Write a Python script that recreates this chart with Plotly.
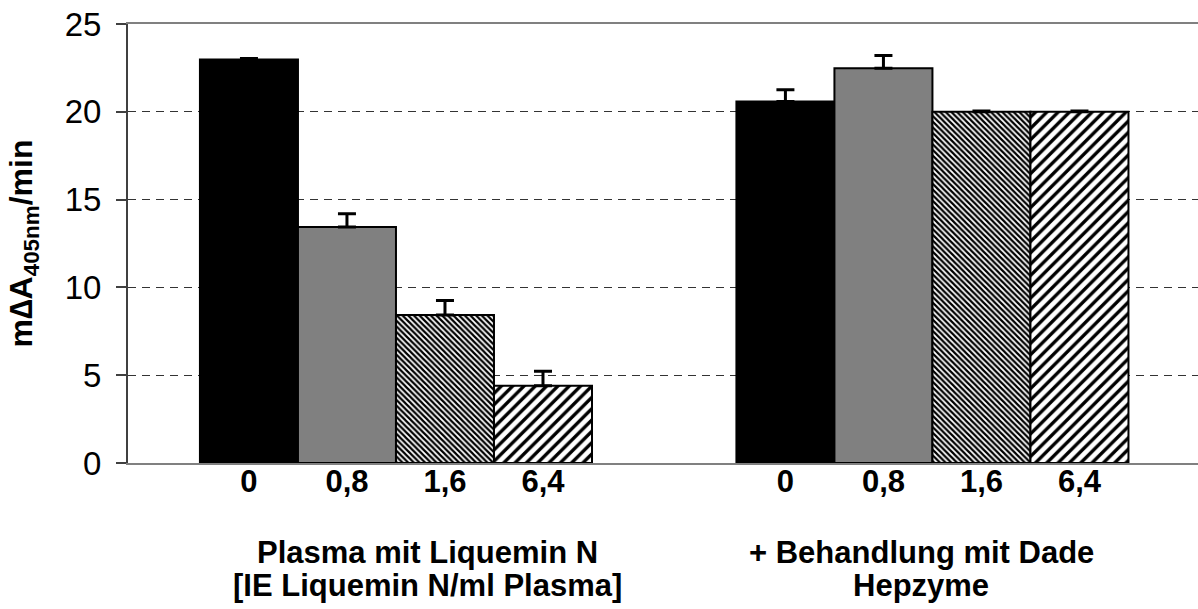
import plotly.graph_objects as go

# ---- data ----
conc_labels = ["0", "0,8", "1,6", "6,4"]
group_line1 = ["Plasma mit Liquemin N", "+ Behandlung mit Dade"]
group_line2 = ["[IE Liquemin N/ml Plasma]", "Hepzyme"]
plasma_values = [22.98, 13.44, 8.43, 4.40]
plasma_errors = [0.05, 0.75, 0.82, 0.82]
hepzyme_values = [20.58, 22.48, 20.0, 20.0]
hepzyme_errors = [0.68, 0.72, 0.05, 0.05]
y_ticks = [0, 5, 10, 15, 20, 25]

# ---- styles ----
FONT = "Liberation Sans, Arial, sans-serif"
fills = ["#000000", "#808080", "white", "white"]
patterns = [
    dict(shape=""),
    dict(shape=""),
    dict(shape="\\", size=4, solidity=0.55, fgcolor="black", bgcolor="white", fillmode="replace"),
    dict(shape="/", size=8, solidity=0.42, fgcolor="black", bgcolor="white", fillmode="replace"),
]
bar_w = 0.1827
group_pos = [0, 1]

fig = go.Figure()
for i, lab in enumerate(conc_labels):
    xs = [g + (i - 1.5) * bar_w for g in group_pos]
    fig.add_trace(go.Bar(
        x=xs,
        y=[plasma_values[i], hepzyme_values[i]],
        width=bar_w,
        name=lab,
        marker=dict(color=fills[i], line=dict(color="black", width=2), pattern=patterns[i]),
        error_y=dict(type="data", symmetric=False,
                     array=[plasma_errors[i], hepzyme_errors[i]],
                     arrayminus=[0, 0], color="black", thickness=3, width=9),
        showlegend=False,
    ))

tickvals = []
ticktext = []
for g in group_pos:
    for i, lab in enumerate(conc_labels):
        tickvals.append(g + (i - 1.5) * bar_w)
        ticktext.append(lab)

annotations = []
label_x = [0.058, 0.979]
for g in range(2):
    annotations.append(dict(x=label_x[g], y=-0.203, xref="x", yref="paper",
                            text=group_line1[g], showarrow=False,
                            xanchor="center", yanchor="middle",
                            font=dict(family=FONT, size=31, color="black", weight="bold")))
    annotations.append(dict(x=label_x[g], y=-0.279, xref="x", yref="paper",
                            text=group_line2[g], showarrow=False,
                            xanchor="center", yanchor="middle",
                            font=dict(family=FONT, size=31, color="black", weight="bold")))

fig.update_layout(
    width=1198, height=609,
    margin=dict(l=128, r=0, t=24, b=146),
    plot_bgcolor="white", paper_bgcolor="white",
    barmode="overlay",
    font=dict(family=FONT, color="black"),
    annotations=annotations,
    xaxis=dict(range=[-0.4995, 1.495], tickvals=tickvals, ticktext=ticktext,
               showgrid=False, zeroline=False, showline=True, linecolor="#808080",
               linewidth=2, mirror=True, ticks="", ticklabelstandoff=-10,
               tickfont=dict(family=FONT, size=31, color="black", weight="bold")),
    yaxis=dict(range=[0, 25], tickvals=y_ticks, showgrid=True, gridcolor="#333333",
               griddash="8px,6px", gridwidth=1, zeroline=False, showline=True,
               linecolor="#404040", linewidth=2, ticks="outside", ticklen=10,
               tickcolor="#404040", tickwidth=2, ticklabelstandoff=8,
               tickfont=dict(family=FONT, size=33, color="black"),
               title=dict(text="m∆A<sub>405nm</sub>/min", standoff=22,
                          font=dict(family=FONT, size=32, color="black", weight="bold"))),
)

fig.write_html("out.html")
